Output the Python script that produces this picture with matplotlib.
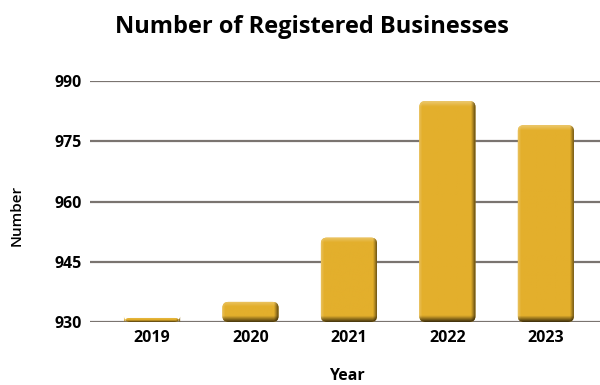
import numpy as np
import matplotlib
matplotlib.use("Agg")
import matplotlib.pyplot as plt
from matplotlib.patches import FancyBboxPatch
from matplotlib.colors import to_rgb

# データ
years = ["2019", "2020", "2021", "2022", "2023"]
counts = [931, 935, 951, 985, 979]
y_ticks = [930, 945, 960, 975, 990]

BAR_COLOR = "#E3AF2C"
BASE = 930

plt.rcParams['font.family'] = ['Open Sans', 'DejaVu Sans']

fig = plt.figure(figsize=(6, 3.85), dpi=100)
ax = fig.add_axes([90 / 600, 1 - 322 / 385, 510 / 600, 241 / 385])

x = np.arange(len(years))
ax.set_xlim(-0.63, 4.55)
ax.set_ylim(930, 990)

# グリッド線
for t in y_ticks:
    ax.axhline(t, color="#7a7470", lw=1.6, zorder=1)


def shaded_bar(ax, xc, top, width):
    """影付きの角丸バーを描く"""
    x0 = xc - width / 2
    h = top - BASE
    patch = FancyBboxPatch((x0, BASE), width, h,
                           boxstyle="round,pad=0,rounding_size=0.06",
                           mutation_aspect=24, lw=0, fc=BAR_COLOR, zorder=2)
    ax.add_patch(patch)

    # 陰影のグラデーション
    ny, nx = 200, 60
    base = np.array(to_rgb(BAR_COLOR))
    img = np.tile(base, (ny, nx, 1))
    xs = np.linspace(0, 1, nx)
    px_h = h * 4.017
    ys = np.linspace(0, px_h, ny)  # 上からのピクセル距離
    # 左側のハイライト
    left = np.clip(1 - xs / 0.05, 0, 1)[None, :, None]
    img = img + (1 - img) * 0.2 * left
    # 上側のハイライト
    topl = np.clip(1 - ys / min(5.0, px_h * 0.4), 0, 1)[:, None, None]
    img = img + (1 - img) * 0.3 * topl
    # 右側の影
    right = np.clip((xs - 0.92) / 0.08, 0, 1)[None, :, None]
    img = img * (1 - 0.6 * right)
    # 下側の影
    sh = min(6.0, px_h * 0.4)
    bot = np.clip((ys - (px_h - sh)) / sh, 0, 1)[:, None, None]
    img = img * (1 - 0.7 * bot)
    im = ax.imshow(np.clip(img, 0, 1), extent=(x0, x0 + width, BASE, top),
                   aspect='auto', zorder=3, interpolation='bilinear')
    im.set_clip_path(patch)


for xi, c in zip(x, counts):
    shaded_bar(ax, xi, c, 0.57)

ax.set_xlim(-0.63, 4.55)
ax.set_ylim(930, 990)

ax.set_xticks(x)
ax.set_xticklabels(years, fontsize=11.5, fontweight='bold')
ax.set_yticks(y_ticks)
ax.set_yticklabels([str(t) for t in y_ticks], fontsize=11.5, fontweight='bold')
ax.tick_params(length=0, pad=6)
for s in ax.spines.values():
    s.set_visible(False)

fig.text(17 / 600, 1 - 215 / 385, "Number", rotation=90, ha='center',
         va='center', fontsize=11, fontweight='semibold')
fig.text(347 / 600, 1 - 376 / 385, "Year", ha='center', va='center',
         fontsize=11.5, fontweight='bold')
fig.text(312 / 600, 1 - 27 / 385, "Number of Registered Businesses",
         ha='center', va='center', fontsize=17, fontweight='bold')

fig.savefig("out.png", dpi=100)
